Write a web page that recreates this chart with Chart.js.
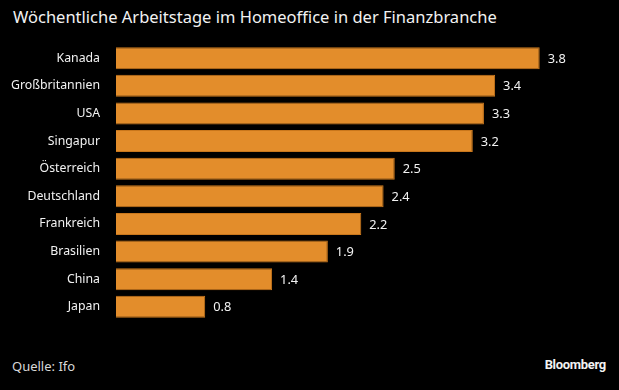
<!DOCTYPE html>
<html>
<head>
<meta charset="utf-8">
<script src="https://cdn.jsdelivr.net/npm/chart.js@4"></script>
<style>
  body { margin: 0; background: #000; width: 619px; height: 390px; overflow: hidden; position: relative; font-family: "Noto Sans", sans-serif; }
  #title { position: absolute; left: 13px; top: 5px; color: #f2f2f2; font-size: 16.5px; white-space: nowrap; }
  #box { position: absolute; left: 0; top: 29px; width: 619px; height: 307px; }
  #source { position: absolute; left: 12px; top: 357px; color: #d8d8d8; font-size: 13px; }
  #brand { position: absolute; right: 13px; top: 357px; color: #f2f2f2; font-size: 13px; font-weight: bold; font-family: Roboto, sans-serif; letter-spacing: -0.3px; }
</style>
</head>
<body>
<div id="title">Wöchentliche Arbeitstage im Homeoffice in der Finanzbranche</div>
<div id="box"><canvas id="chart"></canvas></div>
<div id="source">Quelle: Ifo</div>
<div id="brand">Bloomberg</div>
<script>
const countries = ["Kanada", "Großbritannien", "USA", "Singapur", "Österreich", "Deutschland", "Frankreich", "Brasilien", "China", "Japan"];
const days = [3.8, 3.4, 3.3, 3.2, 2.5, 2.4, 2.2, 1.9, 1.4, 0.8];

const valueLabels = {
    id: "valueLabels",
    afterDatasetsDraw(chart) {
        const ctx = chart.ctx;
        const meta = chart.getDatasetMeta(0);
        ctx.save();
        ctx.fillStyle = "#f2f2f2";
        ctx.font = "12.8px 'Noto Sans', sans-serif";
        ctx.textAlign = "left";
        ctx.textBaseline = "middle";
        meta.data.forEach((bar, i) => {
            ctx.fillText(days[i].toFixed(1), bar.x + 8, bar.y + 1);
        });
        ctx.restore();
    }
};

new Chart(document.getElementById("chart").getContext("2d"), {
    type: "bar",
    data: {
        labels: countries,
        datasets: [{
            data: days,
            backgroundColor: "#e38d2b",
            borderColor: "#c9771c",
            borderWidth: 1,
            categoryPercentage: 0.8,
            barPercentage: 1
        }]
    },
    options: {
        indexAxis: "y",
        responsive: true,
        maintainAspectRatio: false,
        animation: false,
        layout: { padding: { left: 0, right: 57, top: 0, bottom: 0 } },
        plugins: { legend: { display: false }, tooltip: { enabled: false } },
        scales: {
            x: {
                min: 0,
                max: 4,
                display: false
            },
            y: {
                grid: { display: false },
                border: { display: false },
                ticks: {
                    color: "#f2f2f2",
                    font: { family: "Noto Sans", size: 12.3 },
                    padding: 8
                },
                afterFit(scale) { scale.width = 116; }
            }
        }
    },
    plugins: [valueLabels]
});
</script>
</body>
</html>
